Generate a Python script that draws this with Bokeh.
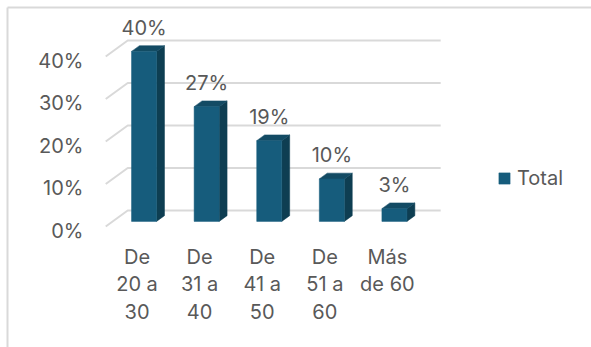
from bokeh.plotting import figure
from bokeh.models import Range1d, Legend, LegendItem
from bokeh.core.properties import value
from bokeh.embed import file_html
from bokeh.resources import INLINE

# Age brackets and their share of the total
categories = ["De\n20 a\n30", "De\n31 a\n40", "De\n41 a\n50", "De\n51 a\n60", "Más\nde 60"]
values = [40, 27, 19, 10, 3]
tick_values = [0, 10, 20, 30, 40]
tick_labels = ["0%", "10%", "20%", "30%", "40%"]
series_name = "Total"

FONT = "Inter"
FONT_SIZE = "20px"
TEXT_COLOR = "#595959"
GRID_COLOR = "#D9D9D9"
FRONT = "#165C7C"
SIDE = "#0E3E52"
TOP = "#134B64"

# oblique depth vector (one full floor depth) in data units
DX, DY = 0.3514, 3.765
BAR_D0, BAR_D = 0.32, 0.36   # bar starts at this depth and is this deep
BAR_W = 0.40

p = figure(width=591, height=347, output_backend="svg", toolbar_location=None,
           x_range=Range1d(-2.181, 7.261), y_range=Range1d(-28.47, 53.18),
           min_border=0, outline_line_color=None)
p.axis.visible = False
p.grid.visible = False

# chart-area border (top and left edges)
bx0, by0 = -2.069, 51.55
p.segment(x0=[bx0, bx0], y0=[by0, by0], x1=[7.3, bx0], y1=[by0, -29],
          line_color=GRID_COLOR, line_width=2)

# gridlines: side-wall diagonal plus back-wall horizontal
n = len(categories)
gx0, gx1 = -0.5, n - 0.5
grid_xs, grid_ys = [], []
for t in tick_values:
    grid_xs.append([gx0, gx0 + DX, gx1 + DX])
    grid_ys.append([t, t + DY, t + DY])
p.multi_line(xs=grid_xs, ys=grid_ys, line_color=GRID_COLOR, line_width=2)

# y tick labels at the front edge of the side wall
p.text(x=[gx0 - 0.355] * len(tick_values), y=[t - 1.0 for t in tick_values],
       text=tick_labels, text_align="right", text_baseline="middle",
       text_font=value(FONT), text_font_size=FONT_SIZE, text_color=TEXT_COLOR)

# 3D bars: front face, side face and top face
fx, fy = BAR_D0 * DX, BAR_D0 * DY
bdx, bdy = BAR_D * DX, BAR_D * DY
lefts = [i + fx - BAR_W / 2 for i in range(n)]
rights = [i + fx + BAR_W / 2 for i in range(n)]
bottoms = [fy] * n
tops = [v + fy for v in values]

side_xs = [[r, r + bdx, r + bdx, r] for r in rights]
side_ys = [[b, b + bdy, t + bdy, t] for b, t in zip(bottoms, tops)]
top_xs = [[l, r, r + bdx, l + bdx] for l, r in zip(lefts, rights)]
top_ys = [[t, t, t + bdy, t + bdy] for t in tops]

p.patches(xs=side_xs, ys=side_ys, fill_color=SIDE, line_color=SIDE, line_width=0.5)
p.patches(xs=top_xs, ys=top_ys, fill_color=TOP, line_color=TOP, line_width=0.5)
front = p.quad(left=lefts, right=rights, bottom=bottoms, top=tops,
               fill_color=FRONT, line_color=FRONT, line_width=0.5)

# value labels above each bar
p.text(x=[i + fx for i in range(n)], y=[t + 5.6 for t in tops],
       text=[f"{v}%" for v in values], text_align="center", text_baseline="middle",
       text_font=value(FONT), text_font_size=FONT_SIZE, text_color=TEXT_COLOR)

# category labels below the floor
p.text(x=list(range(n)), y=[-4.3] * n, text=categories,
       text_align="center", text_baseline="top", text_line_height=1.15,
       text_font=value(FONT), text_font_size=FONT_SIZE, text_color=TEXT_COLOR)

legend = Legend(items=[LegendItem(label=series_name, renderers=[front])],
                location=(497, 157), orientation="vertical",
                glyph_width=14, glyph_height=14, label_standoff=6,
                padding=0, margin=0, border_line_color=None,
                background_fill_alpha=0,
                label_text_font=FONT, label_text_font_size=FONT_SIZE,
                label_text_color=TEXT_COLOR)
p.add_layout(legend, "center")

open("out.html", "w").write(file_html(p, INLINE))
